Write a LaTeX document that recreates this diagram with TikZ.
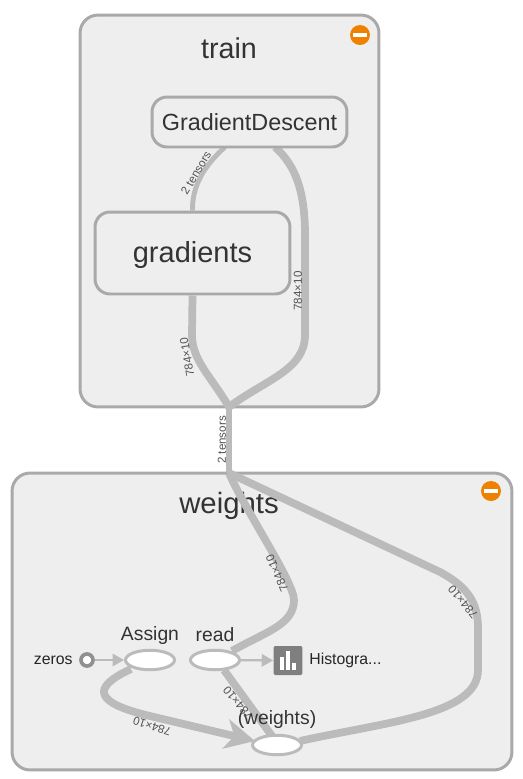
\documentclass[tikz,border=0pt]{standalone}
\usepackage{fontspec}
\setmainfont{Liberation Sans}
\usetikzlibrary{shapes.geometric,arrows.meta}
\definecolor{boxfill}{HTML}{EEEEEE}
\definecolor{boxline}{HTML}{A9A9A9}
\definecolor{edgeline}{HTML}{BBBBBB}
\definecolor{inktext}{HTML}{333333}
\definecolor{minusfill}{HTML}{EE8100}
\tikzset{
	groupbox/.style={draw=boxline, fill=boxfill, line width=1.7pt, rounded corners=0.36cm, inner sep=0},
	opbox/.style={draw=boxline, fill=boxfill, line width=1.7pt, rounded corners=0.3cm, inner sep=0},
	opnode/.style={shape=ellipse, draw=edgeline, fill=white, line width=1.7pt, inner sep=0, minimum width=0.98cm, minimum height=0.39cm},
	edgethick/.style={draw=edgeline, line width=4.4pt},
	edgethin/.style={draw=edgeline, line width=2.8pt},
	edgeflow/.style={draw=edgeline, line width=1.3pt, -{Triangle[length=6.5pt,width=7pt]}},
	edgelabel/.style={text=inktext!85, font=\fontsize{6.6}{7}\selectfont, inner sep=0},
	minusicon/.style={shape=circle, fill=minusfill, inner sep=0, minimum size=0.4cm},
}
\begin{document}
\begin{tikzpicture}[x=0.02cm, y=-0.02cm]
	\useasboundingbox (0, 0) rectangle (522, 779);
	% Group boxes:
	\node[groupbox, minimum width=5.98cm, minimum height=7.84cm] (TrainBox) at (229.5, 211) {};
	\node[groupbox, minimum width=10cm, minimum height=5.94cm] (WeightsBox) at (262, 621.5) {};
	\node[text=inktext, font=\fontsize{16.3}{18}\selectfont] (TrainTitle) at (229, 48) {train};
	\node[text=inktext, font=\fontsize{16.7}{18}\selectfont] (WeightsTitle) at (229, 506) {weights};
	\node[minusicon] (TrainMinus) at (360, 35) {};
	\node[minusicon] (WeightsMinus) at (491, 491) {};
	\fill[white] ([xshift=-0.14cm, yshift=-0.045cm]TrainMinus.center) rectangle ([xshift=0.14cm, yshift=0.045cm]TrainMinus.center);
	\fill[white] ([xshift=-0.14cm, yshift=-0.045cm]WeightsMinus.center) rectangle ([xshift=0.14cm, yshift=0.045cm]WeightsMinus.center);
	% Ends of the edges:
	\coordinate (TrainOut) at (229, 407);
	\coordinate (WeightsIn) at (229, 473);
	\coordinate (DescentIn) at (225, 147);
	\coordinate (DescentOut) at (275, 147);
	\coordinate (ReadOut) at (232, 651);
	\coordinate (ReadDown) at (224, 670);
	\coordinate (AssignOut) at (131, 669);
	\coordinate (VarIn) at (255, 741);
	\coordinate (VarTop) at (272, 736);
	\coordinate (VarEast) at (300, 741);
	% Edges:
	\node[opbox, minimum width=3.9cm, minimum height=1.64cm] (Gradients) at (192.5, 253) {};
	\draw[edgethin] (Gradients.north) .. controls (192, 185) and (205, 165) .. (DescentIn);
	\draw[edgethick] (DescentOut) .. controls (295, 165) and (305, 190) .. (305, 235) -- (305, 335) .. controls (305, 370) and (265, 380) .. (TrainOut);
	\draw[edgethick] (Gradients.south) -- (192, 335) .. controls (192, 360) and (210, 375) .. (TrainOut);
	\draw[draw=edgeline, line width=3.8pt] (TrainOut) -- (WeightsIn);
	\draw[edgethick] (WeightsIn) .. controls (245, 510) and (294, 582) .. (294, 600) .. controls (294, 625) and (265, 632) .. (ReadOut);
	\draw[edgethick] (WeightsIn) -- (440, 572) .. controls (468, 587) and (478, 603) .. (478, 628) -- (478, 670) .. controls (478, 715) and (385, 722) .. (VarEast);
	\draw[edgethick] (ReadDown) -- (VarTop);
	\draw[edgethick, -{Stealth[length=17pt,width=17pt,inset=5pt]}] (AssignOut) .. controls (90, 688) and (95, 703) .. (150, 716) -- (VarIn);
	% Nodes of the graph:
	\node[opbox, minimum width=3.9cm, minimum height=1cm] (Descent) at (249.5, 122) {};
	\node[text=inktext, font=\fontsize{13.3}{15}\selectfont] (DescentText) at (Descent.center) {GradientDescent};
	\node[text=inktext, font=\fontsize{16.5}{18}\selectfont] (GradientsText) at ([yshift=-0.04cm]Gradients.center) {gradients};
	\node[opnode] (Assign) at (150, 660) {};
	\node[opnode] (Read) at (215, 660) {};
	\node[opnode] (Var) at (277, 745) {};
	\node[shape=circle, draw=boxline!85!black, fill=white, line width=2.1pt, inner sep=0, minimum size=0.24cm] (Zeros) at (87, 660) {};
	\node[shape=rectangle, rounded corners=0.04cm, fill=boxline!75!black, inner sep=0, minimum size=0.58cm] (Histo) at (288, 660.5) {};
	\fill[white] ([xshift=-0.17cm, yshift=-0.19cm]Histo.center) rectangle ([xshift=-0.09cm, yshift=0.07cm]Histo.center);
	\fill[white] ([xshift=-0.04cm, yshift=-0.19cm]Histo.center) rectangle ([xshift=0.04cm, yshift=0.2cm]Histo.center);
	\fill[white] ([xshift=0.09cm, yshift=-0.19cm]Histo.center) rectangle ([xshift=0.17cm, yshift=-0.05cm]Histo.center);
	\draw[edgeflow] (Zeros) -- (Assign);
	\draw[edgeflow] (Read) -- (Histo);
	% Texts:
	\node[text=inktext, font=\fontsize{11}{13}\selectfont] (AssignText) at (150, 635) {Assign};
	\node[text=inktext, font=\fontsize{11}{13}\selectfont] (ReadText) at (215, 635) {read};
	\node[text=inktext, font=\fontsize{11}{13}\selectfont] (VarText) at (277, 719) {(weights)};
	\node[text=black!85, font=\fontsize{9}{11}\selectfont, anchor=east, inner sep=0] (ZerosText) at (73, 660.5) {zeros};
	\node[text=black!85, font=\fontsize{9}{11}\selectfont, anchor=west, inner sep=0] (HistoText) at (309, 660.5) {Histogra...};
	\node[edgelabel, rotate=59] (LabelA) at (196, 173) {2 tensors};
	\node[edgelabel, rotate=90] (LabelB) at (298, 291) {784×10};
	\node[edgelabel, rotate=100] (LabelC) at (187, 357) {784×10};
	\node[edgelabel, rotate=90] (LabelD) at (222, 440) {2 tensors};
	\node[edgelabel, rotate=114] (LabelE) at (277, 573) {784×10};
	\node[edgelabel, rotate=130] (LabelF) at (463, 602) {784×10};
	\node[edgelabel, rotate=130] (LabelG) at (238, 703) {784×10};
	\node[edgelabel, rotate=162] (LabelH) at (152, 726) {784×10};
\end{tikzpicture}
\end{document}
